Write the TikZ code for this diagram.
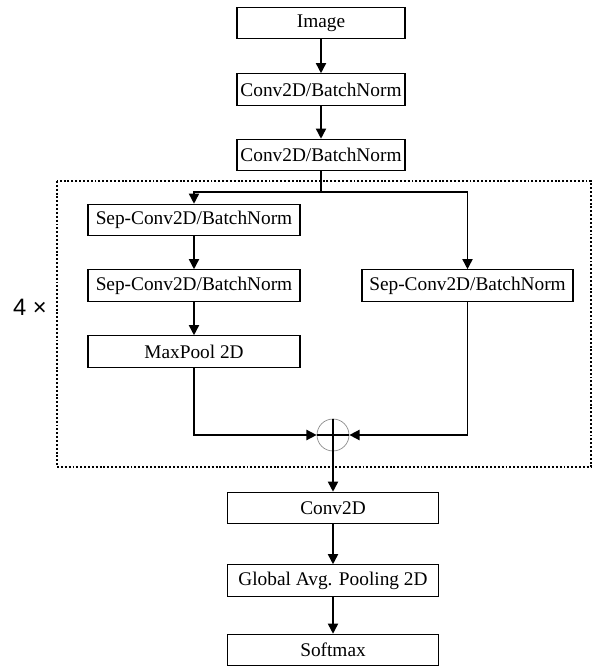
\documentclass[tikz,border=0pt]{standalone}
\usepackage{fontspec}
\setmainfont{Liberation Serif}
\newfontfamily\labelfont{Liberation Sans}
\usepackage{tikz}
\usetikzlibrary{arrows.meta, positioning, shapes, calc}
\tikzset{every path/.style={line cap=butt, line join=miter}, >={Triangle[length=5.8pt, width=5.8pt]}}

\begin{document}
\begin{tikzpicture}[
    block/.style={
        draw,
        line width=0.6pt,
        inner sep=0pt,
        minimum width=4.22cm,
        minimum height=0.63cm,
        align=center,
        font=\fontsize{11}{13}\selectfont
    },
    topblock/.style={
        block,
        minimum width=3.36cm
    },
    sepblock/.style={
        block,
        minimum width=4.24cm
    },
    adder/.style={
        circle,
        draw=black!45,
        line width=0.4pt,
        inner sep=0pt,
        minimum size=0.64cm
    },
    arrow/.style={
        ->,
        line width=0.9pt
    },
    line/.style={
        line width=0.9pt
    },
    repeatbox/.style={
        line width=0.8pt,
        dash pattern=on 1.1pt off 1.1pt
    }
]

\useasboundingbox (0,0) rectangle (11.9,-13.32);

% repeated block
\draw[repeatbox] (1.14,-3.62) rectangle (11.82,-9.34);
\node[font=\labelfont\fontsize{13.5}{15}\selectfont] (times) at (0.60,-6.14) {4 \texttimes};

\node[topblock] (img) at (6.42,-0.46) {Image};
\node[topblock] (conv1) at (6.42,-1.79) {Conv2D/BatchNorm};
\node[topblock] (conv2) at (6.42,-3.10) {Conv2D/BatchNorm};
\coordinate (split) at (6.42,-3.84);

\node[sepblock] (sep1) at (3.88,-4.40) {Sep-Conv2D/BatchNorm};
\node[sepblock] (sep2) at (3.88,-5.71) {Sep-Conv2D/BatchNorm};
\node[sepblock] (pool) at (3.88,-7.03) {MaxPool 2D};
\node[block] (sepR) at (9.35,-5.71) {Sep-Conv2D/BatchNorm};

\node[adder] (sum) at (6.66,-8.70) {};

\node[block] (conv3) at (6.66,-10.16) {Conv2D};
\node[block] (gap) at (6.66,-11.61) {Global Avg. Pooling 2D};
\node[block] (soft) at (6.66,-13.00) {Softmax};

\draw[arrow] (img) -- (conv1);
\draw[arrow] (conv1) -- (conv2);
\draw[line] (conv2) -- (split);
\draw[arrow] (split) -| (sep1);
\draw[arrow] (split) -| (sepR);
\draw[arrow] (sep1) -- (sep2);
\draw[arrow] (sep2) -- (pool);
\draw[arrow] (pool) |- (sum);
\draw[arrow] (sepR) |- (sum);
\draw[line width=0.6pt] (sum.west) -- (sum.east);
\draw[arrow] (sum.north) -- (conv3);
\draw[arrow] (conv3) -- (gap);
\draw[arrow] (gap) -- (soft);

\end{tikzpicture}
\end{document}
